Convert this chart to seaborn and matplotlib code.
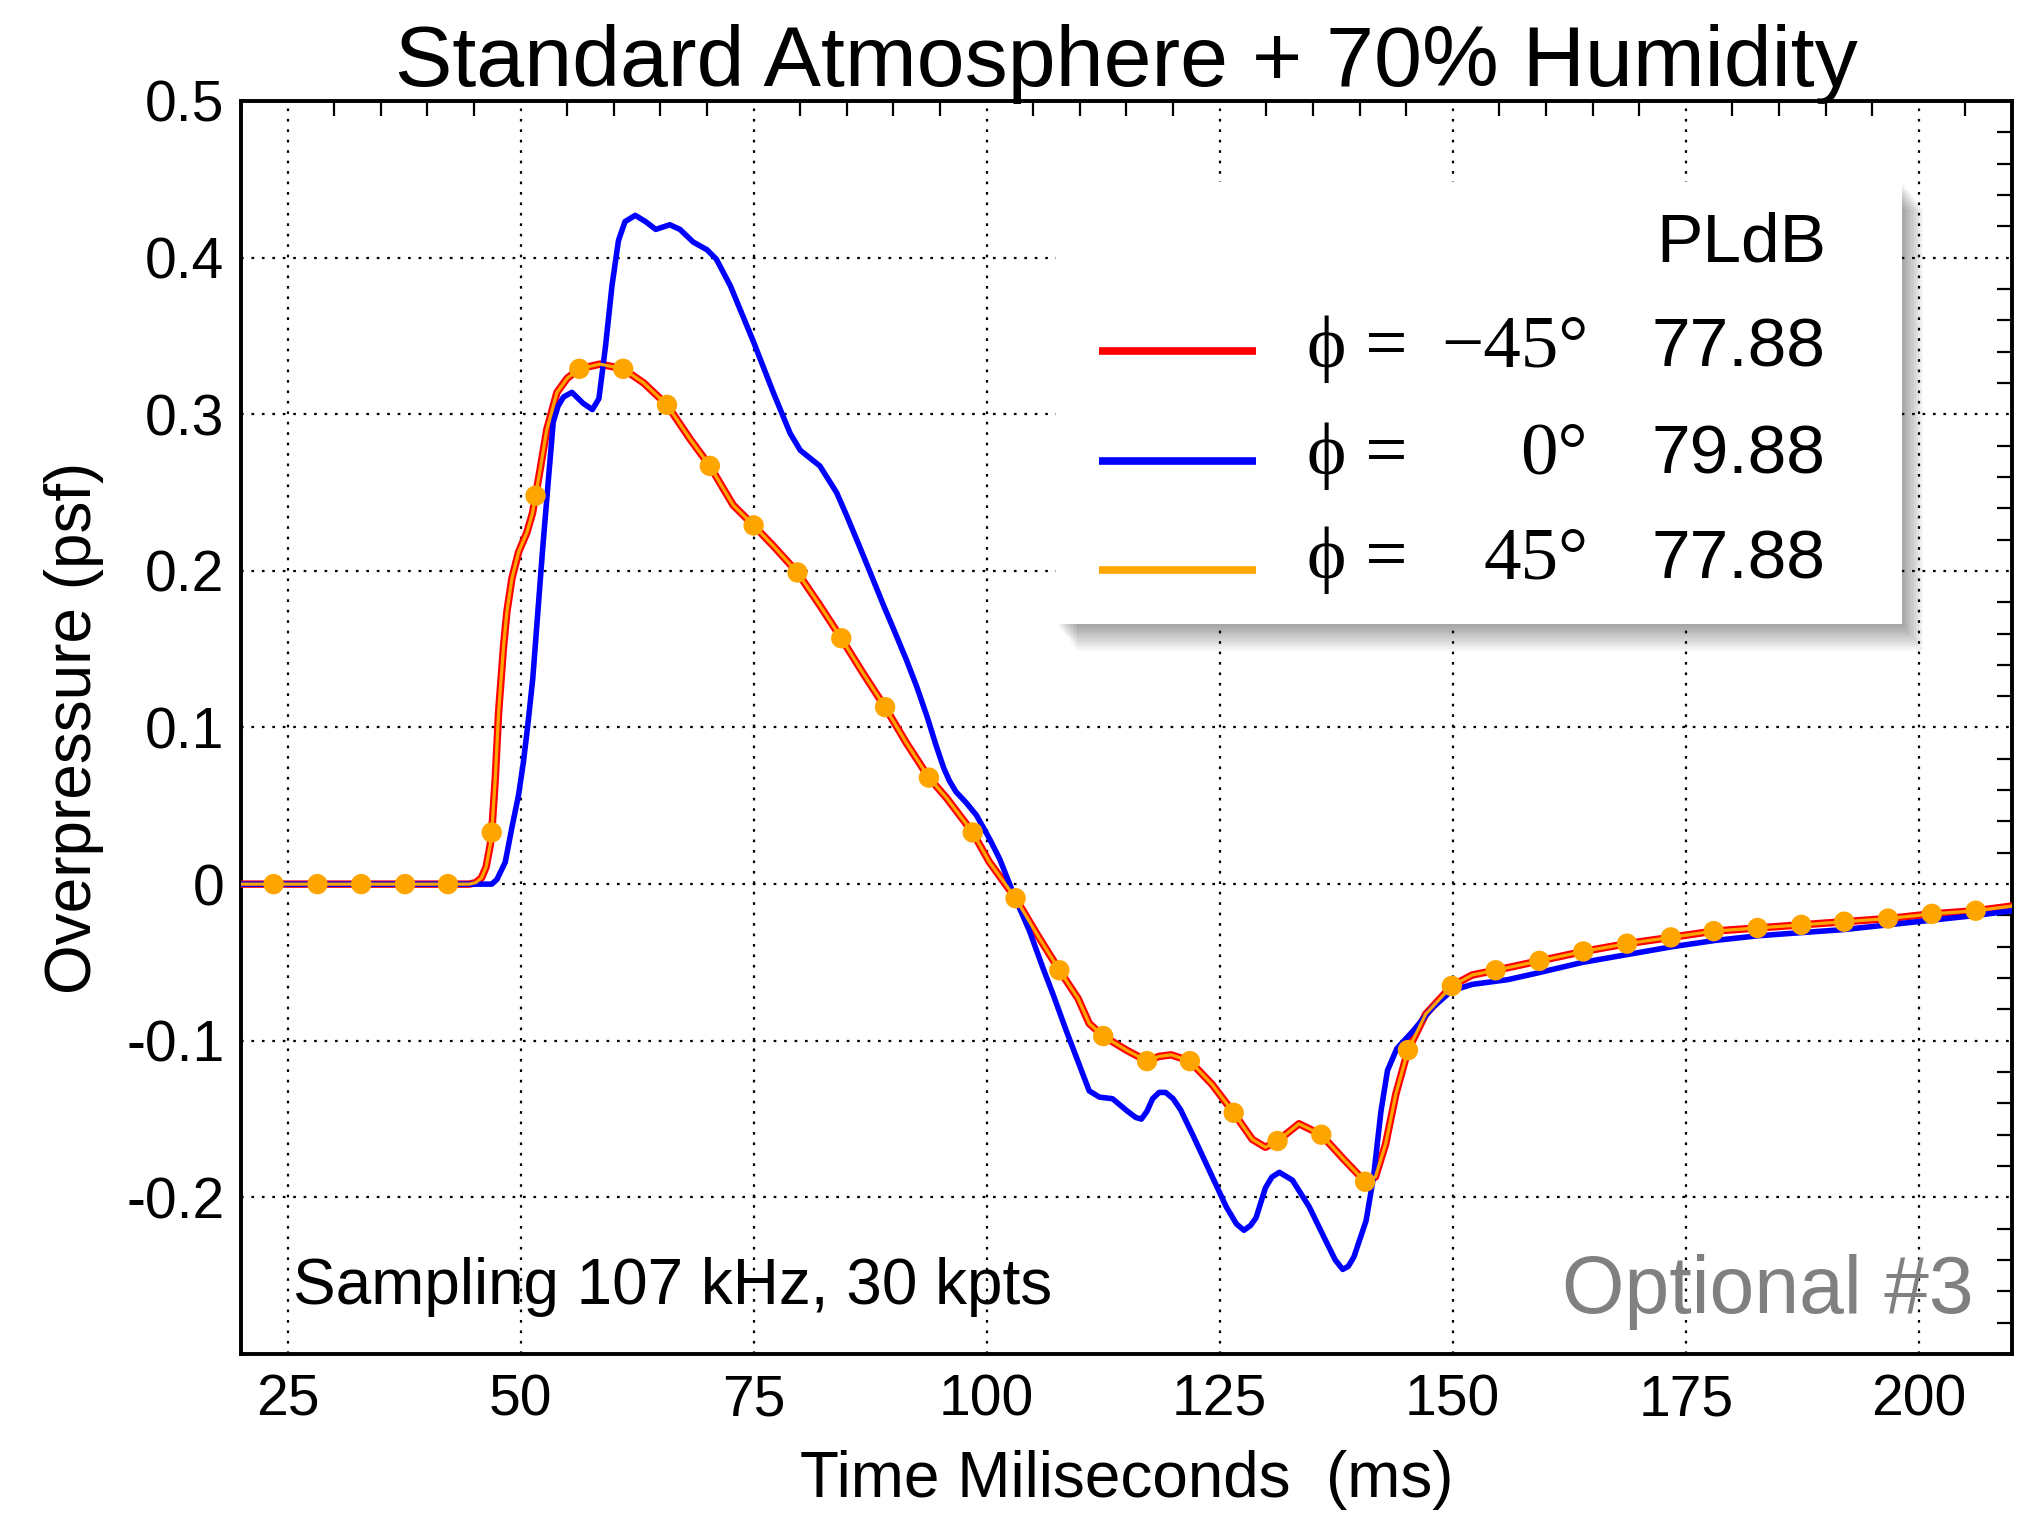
import matplotlib
matplotlib.use("Agg")
import matplotlib.pyplot as plt
import matplotlib.transforms as mtransforms
from matplotlib.lines import Line2D
from matplotlib.patches import Rectangle
from matplotlib.ticker import MultipleLocator
import seaborn as sns

# ---------------- data ----------------
# phi = -45 deg and phi = +45 deg coincide (same PLdB)
t_sym = [20.0, 44.5, 45.2, 45.8, 46.3, 46.74, 46.9, 47.28, 47.64, 48.17, 48.53, 49.06,
         49.78, 50.67, 51.28, 51.6, 52.1, 52.8, 53.9, 55.0, 56.3, 58.5, 61.0, 63.2, 65.7,
         68.2, 70.3, 72.8, 75.0, 77.1, 79.7, 82.1, 84.4, 86.7, 89.1, 91.4, 93.8, 95.7,
         98.5, 100.3, 103.1, 105.4, 107.8, 109.8, 111.0, 112.5, 115.0, 117.2, 118.5,
         119.8, 121.8, 124.2, 126.5, 128.5, 129.9, 131.2, 133.5, 135.9, 138.2, 140.6,
         141.7, 142.8, 143.9, 145.2, 147.1, 149.9, 152.1, 154.6, 159.3, 164.0, 168.7,
         173.4, 178.0, 182.7, 187.4, 192.0, 196.7, 201.4, 206.1, 210.0]
p_sym = [0.0, 0.0, 0.001, 0.004, 0.011, 0.025, 0.033, 0.0675, 0.110, 0.152, 0.174, 0.195,
         0.212, 0.2245, 0.237, 0.248, 0.265, 0.290, 0.314, 0.323, 0.329, 0.332, 0.329,
         0.320, 0.306, 0.284, 0.267, 0.242, 0.229, 0.216, 0.199, 0.178, 0.157, 0.135,
         0.113, 0.090, 0.068, 0.055, 0.033, 0.014, -0.009, -0.032, -0.055, -0.073,
         -0.089, -0.097, -0.106, -0.113, -0.110, -0.109, -0.113, -0.128, -0.146, -0.163,
         -0.168, -0.164, -0.153, -0.160, -0.175, -0.190, -0.187, -0.166, -0.134, -0.106,
         -0.083, -0.065, -0.058, -0.055, -0.049, -0.043, -0.038, -0.034, -0.030, -0.028,
         -0.026, -0.024, -0.022, -0.019, -0.017, -0.014]

# phi = 0 deg
t_zero = [20.0, 46.9, 47.46, 48.35, 49.06, 49.78, 50.3, 50.74, 51.3, 51.85, 52.39, 52.99,
          53.5, 54.0, 54.6, 55.5, 56.7, 57.7, 58.4, 59.1, 59.8, 60.5, 61.2, 62.3, 63.4,
          64.5, 66.0, 67.1, 68.5, 70.0, 71.0, 72.5, 75.0, 77.1, 78.9, 80.0, 82.1, 83.9,
          85.0, 86.4, 87.5, 89.0, 90.0, 91.4, 92.5, 93.6, 94.6, 95.4, 96.0, 96.7, 97.8,
          98.9, 100.3, 101.4, 102.6, 103.5, 104.6, 106.0, 107.1, 108.5, 111.0, 112.1,
          113.5, 115.1, 116.0, 116.6, 117.2, 117.8, 118.5, 119.2, 120.0, 120.8, 122.1,
          123.9, 125.7, 126.8, 127.6, 128.3, 128.9, 129.9, 130.6, 131.4, 132.8, 134.6,
          136.4, 137.4, 138.2, 138.8, 139.4, 140.7, 141.5, 142.3, 143.0, 144.0, 145.7,
          147.8, 149.9, 152.1, 155.9, 158.9, 163.9, 168.7, 173.5, 178.1, 182.7, 187.3,
          192.0, 196.7, 201.4, 206.1, 210.0]
p_zero = [0.0, 0.0, 0.003, 0.014, 0.036, 0.057, 0.078, 0.100, 0.131, 0.174, 0.216, 0.259,
          0.295, 0.305, 0.311, 0.314, 0.307, 0.303, 0.310, 0.343, 0.382, 0.411, 0.423,
          0.427, 0.423, 0.418, 0.421, 0.418, 0.410, 0.405, 0.399, 0.382, 0.346, 0.314,
          0.288, 0.277, 0.267, 0.250, 0.235, 0.215, 0.199, 0.177, 0.163, 0.143, 0.126,
          0.107, 0.088, 0.074, 0.066, 0.059, 0.052, 0.044, 0.029, 0.016, -0.002, -0.015,
          -0.030, -0.053, -0.070, -0.093, -0.132, -0.136, -0.137, -0.145, -0.149, -0.150,
          -0.145, -0.137, -0.133, -0.133, -0.137, -0.144, -0.160, -0.183, -0.206, -0.217,
          -0.221, -0.218, -0.213, -0.194, -0.187, -0.184, -0.189, -0.206, -0.228, -0.240,
          -0.246, -0.244, -0.238, -0.215, -0.187, -0.145, -0.119, -0.105, -0.094, -0.079,
          -0.068, -0.064, -0.061, -0.057, -0.050, -0.045, -0.040, -0.036, -0.033, -0.031,
          -0.029, -0.026, -0.023, -0.020, -0.017]

# sampled points of the phi = 45 deg signal (orange dots)
t_dots = [23.5, 28.2, 32.9, 37.6, 42.2, 46.9, 51.6, 56.3, 61.0, 65.7, 70.3, 75.0, 79.7,
          84.4, 89.1, 93.8, 98.5, 103.1, 107.8, 112.5, 117.2, 121.8, 126.5, 131.2, 135.9,
          140.6, 145.2, 149.9, 154.6, 159.3, 164.0, 168.7, 173.4, 178.0, 182.7, 187.4,
          192.0, 196.7, 201.4, 206.1]
p_dots = [0.0, 0.0, 0.0, 0.0, 0.0, 0.033, 0.248, 0.329, 0.329, 0.306, 0.267, 0.229, 0.199,
          0.157, 0.113, 0.068, 0.033, -0.009, -0.055, -0.097, -0.113, -0.113, -0.146,
          -0.164, -0.160, -0.190, -0.106, -0.065, -0.055, -0.049, -0.043, -0.038, -0.034,
          -0.030, -0.028, -0.026, -0.024, -0.022, -0.019, -0.017]

phi_values = ["\u221245\u00b0", "0\u00b0", "45\u00b0"]
pldb_values = ["77.88", "79.88", "77.88"]
series_colors = ["#ff0000", "#0000ff", "#ffa500"]

x_ticks = [25, 50, 75, 100, 125, 150, 175, 200]
y_ticks = [-0.2, -0.1, 0.0, 0.1, 0.2, 0.3, 0.4, 0.5]
y_ticklabels = ["-0.2", "-0.1", "0", "0.1", "0.2", "0.3", "0.4", "0.5"]

# ---------------- style ----------------
sns.set_style("white")
plt.rcParams["font.family"] = ["Liberation Sans", "DejaVu Sans"]
plt.rcParams["axes.unicode_minus"] = False
for key in ["text.color", "axes.labelcolor", "xtick.color", "ytick.color",
            "axes.edgecolor"]:
    plt.rcParams[key] = "black"
SERIF = ["Liberation Serif", "DejaVu Serif"]

fig = plt.figure(figsize=(20.26, 15.14), dpi=100)
ax = fig.add_axes([0.11895, 0.10568, 0.87414, 0.82761])

# ---------------- curves ----------------
sns.lineplot(x=t_sym, y=p_sym, color=series_colors[0], lw=5.4, ax=ax,
             estimator=None, sort=False, zorder=3)
sns.lineplot(x=t_zero, y=p_zero, color=series_colors[1], lw=4.0, ax=ax,
             estimator=None, sort=False, zorder=3.2)
sns.lineplot(x=t_sym, y=p_sym, color=series_colors[2], lw=2.3, ax=ax,
             estimator=None, sort=False, zorder=3.4)
sns.scatterplot(x=t_dots, y=p_dots, color=series_colors[2], s=215, edgecolor="none",
                linewidth=0, ax=ax, zorder=3.6)

# ---------------- axes ----------------
ax.set_xlim(20, 210)
ax.set_ylim(-0.3, 0.5)
ax.set_xticks(x_ticks)
ax.set_xticklabels([str(v) for v in x_ticks])
ax.set_yticks(y_ticks)
ax.set_yticklabels(y_ticklabels)
ax.xaxis.set_minor_locator(MultipleLocator(5))
ax.yaxis.set_minor_locator(MultipleLocator(0.02))
ax.tick_params(which="both", direction="in", top=True, right=True, color="black")
ax.tick_params(which="major", length=0, labelsize=41, labelcolor="black")
ax.tick_params(axis="x", which="major", pad=14)
ax.tick_params(axis="y", which="major", pad=12)
ax.tick_params(which="minor", length=10.5, width=1.6)
ax.grid(True, which="major", color="black", linestyle=(0, (1.2, 3.5)), linewidth=1.6)
for s in ax.spines.values():
    s.set_color("black")
    s.set_linewidth(2.8)

ax.set_title("Standard Atmosphere + 70% Humidity", fontsize=62, pad=11, color="black")
ax.set_xlabel("Time Miliseconds  (ms)", fontsize=46, labelpad=16, color="black")
ax.set_ylabel("Overpressure (psf)", fontsize=46, labelpad=16, color="black")

ax.text(0.0294, 0.0399, "Sampling 107 kHz, 30 kpts", transform=ax.transAxes,
        fontsize=46, ha="left", va="baseline", color="black")
ax.text(0.9786, 0.0327, "Optional #3", transform=ax.transAxes, color="#808080",
        fontsize=58, ha="right", va="baseline")

# ---------------- legend panel ----------------
bx, by, bw, bh = 0.4602, 0.5826, 0.4777, 0.3528
for k in range(1, 15):
    off = mtransforms.ScaledTranslation(1.5 * k / 100, -1.9 * k / 100, fig.dpi_scale_trans)
    ax.add_patch(Rectangle((bx, by), bw, bh, transform=ax.transAxes + off,
                           facecolor="black", edgecolor="none", alpha=0.026,
                           zorder=5.5, clip_on=False))
ax.add_patch(Rectangle((bx, by), bw, bh, transform=ax.transAxes, facecolor="white",
                       edgecolor="none", zorder=6, clip_on=False))

handle_y = [0.8005, 0.7127, 0.6257]
text_base = [0.7880, 0.7027, 0.6193]
for i in range(3):
    ax.add_line(Line2D([0.4845, 0.5731], [handle_y[i], handle_y[i]], transform=ax.transAxes,
                       color=series_colors[i], lw=5.5, solid_capstyle="butt", zorder=7))
    ax.text(0.6019, text_base[i], "\u03d5 =", transform=ax.transAxes, fontsize=54,
            family=SERIF, ha="left", va="baseline", zorder=7, color="black")
    ax.text(0.7606, text_base[i], phi_values[i], transform=ax.transAxes, fontsize=54,
            family=SERIF, ha="right", va="baseline", zorder=7, color="black")
    ax.text(0.7967, text_base[i], pldb_values[i], transform=ax.transAxes, fontsize=50,
            ha="left", va="baseline", zorder=7, color="black")
ax.text(0.7990, 0.8723, "PLdB", transform=ax.transAxes, fontsize=50, ha="left",
        va="baseline", zorder=7, color="black")

ax.set_xlim(20, 210)
ax.set_ylim(-0.3, 0.5)
fig.savefig("out.png", dpi=100)
